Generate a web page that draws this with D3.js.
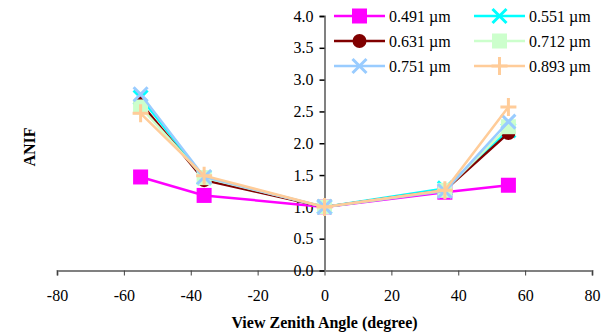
<!DOCTYPE html>
<html><head><meta charset="utf-8">
<script src="https://cdn.jsdelivr.net/npm/d3@7"></script>
<style>body{margin:0;background:#fff;} svg{display:block;} text{font-family:"Liberation Serif","Times New Roman",serif;}</style>
</head><body>
<svg id="c" width="614" height="336"></svg>
<script>
const angles = [-55, -36, 0, 36, 55];
const seriesNames = ["0.491 µm", "0.551 µm", "0.631 µm", "0.712 µm", "0.751 µm", "0.893 µm"];
const s491 = [1.47, 1.18, 1.00, 1.23, 1.34];
const s551 = [2.72, 1.46, 1.00, 1.29, 2.20];
const s631 = [2.63, 1.42, 1.00, 1.26, 2.16];
const s712 = [2.57, 1.46, 1.00, 1.26, 2.26];
const s751 = [2.77, 1.47, 1.00, 1.25, 2.34];
const s893 = [2.47, 1.49, 1.00, 1.26, 2.57];
const xTicks = [-80, -60, -40, -20, 0, 20, 40, 60, 80];
const xTickLabels = ["-80", "-60", "-40", "-20", "0", "20", "40", "60", "80"];
const yTicks = [0, 0.5, 1, 1.5, 2, 2.5, 3, 3.5, 4];
const yTickLabels = ["0.0", "0.5", "1.0", "1.5", "2.0", "2.5", "3.0", "3.5", "4.0"];

const colors = ["#FF00FF", "#00FFFF", "#800000", "#CCFFCC", "#99CCFF", "#FFCC99"];
const shapes = ["square", "x", "circle", "square", "x", "plus"];
const allSeries = [s491, s551, s631, s712, s751, s893];

const svg = d3.select("#c");
const x = d3.scaleLinear().domain([-80, 80]).range([57, 592]);
const y = d3.scaleLinear().domain([0, 4]).range([270.5, 16]);

// x axis
const xa = svg.append("g").attr("transform", `translate(0,${y(0)})`)
  .call(d3.axisBottom(x).tickValues(xTicks).tickSize(5).tickPadding(14).tickFormat((d, i) => xTickLabels[i]));
xa.attr("font-family", null);
xa.select(".domain").attr("stroke", "#808080").attr("stroke-width", 2);
xa.selectAll(".tick line").attr("stroke", "#404040");
xa.selectAll("text").attr("font-size", 16).attr("fill", "#000");

// y axis
const ya = svg.append("g").attr("transform", `translate(${x(0)},0)`)
  .call(d3.axisLeft(y).tickValues(yTicks).tickSize(5).tickPadding(6).tickFormat((d, i) => yTickLabels[i]));
ya.attr("font-family", null);
ya.select(".domain").attr("stroke", "#808080").attr("stroke-width", 2);
ya.selectAll(".tick line").attr("stroke", "#000").attr("stroke-width", 1.5);
ya.selectAll("text").attr("font-size", 16).attr("fill", "#000");

function drawMarker(g, shape, color, cx, cy) {
  if (shape === "square") {
    g.append("rect").attr("x", cx - 7.5).attr("y", cy - 7.5).attr("width", 15).attr("height", 15).attr("fill", color);
  } else if (shape === "circle") {
    g.append("circle").attr("cx", cx).attr("cy", cy).attr("r", 7).attr("fill", color);
  } else if (shape === "x") {
    g.append("path").attr("d", `M${cx-7},${cy-7}L${cx+7},${cy+7}M${cx-7},${cy+7}L${cx+7},${cy-7}`)
      .attr("stroke", color).attr("stroke-width", 3);
  } else if (shape === "plus") {
    g.append("path").attr("d", `M${cx-8},${cy}L${cx+8},${cy}M${cx},${cy-9}L${cx},${cy+9}`)
      .attr("stroke", color).attr("stroke-width", 3);
  }
}

const line = d3.line().x((d, i) => x(angles[i])).y(d => y(d));
allSeries.forEach((s, k) => {
  const g = svg.append("g");
  g.append("path").datum(s).attr("d", line).attr("fill", "none").attr("stroke", colors[k]).attr("stroke-width", 2.5);
  s.forEach((v, i) => drawMarker(g, shapes[k], colors[k], x(angles[i]), y(v)));
});

// legend
const legPos = [[334, 16], [474, 16], [334, 41], [474, 41], [334, 66], [474, 66]];
seriesNames.forEach((n, k) => {
  const [lx, ly] = legPos[k];
  const g = svg.append("g");
  g.append("line").attr("x1", lx).attr("x2", lx + 51).attr("y1", ly).attr("y2", ly).attr("stroke", colors[k]).attr("stroke-width", 2.5);
  drawMarker(g, shapes[k], colors[k], lx + 25.5, ly);
  g.append("text").attr("x", lx + 55).attr("y", ly + 5.5).attr("font-size", 16).text(n);
});

// axis titles
svg.append("text").attr("x", x(0)).attr("y", 328).attr("text-anchor", "middle")
  .attr("font-size", 16).attr("font-weight", "bold").text("View Zenith Angle (degree)");
svg.append("text").attr("transform", "translate(35,147) rotate(-90)").attr("text-anchor", "middle")
  .attr("font-size", 16).attr("font-weight", "bold").text("ANIF");
</script>
</body></html>
